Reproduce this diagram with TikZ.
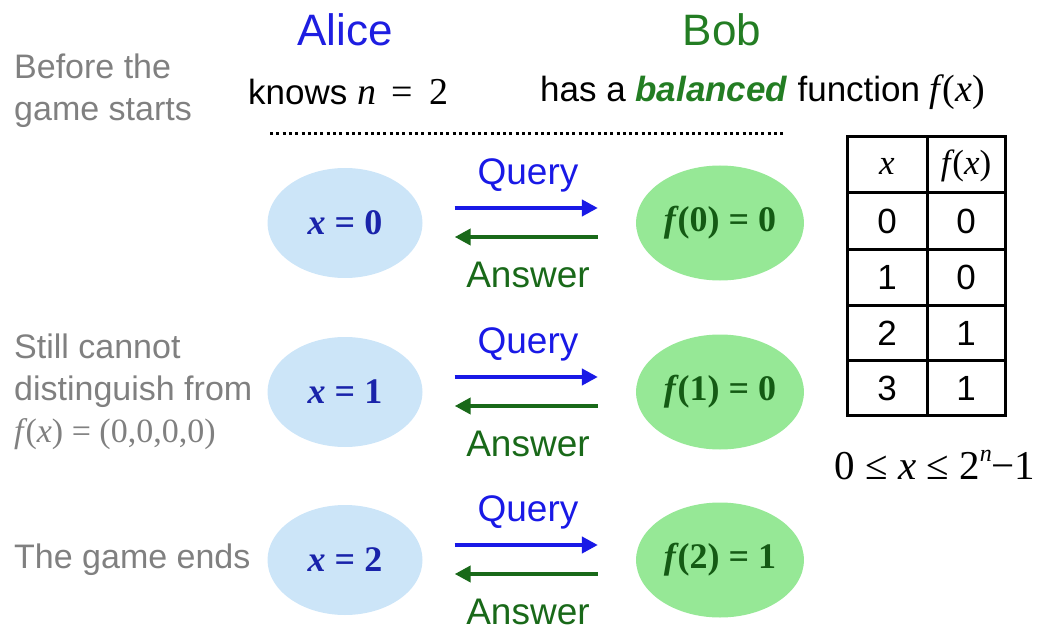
\documentclass[tikz,border=0pt]{standalone}
\usepackage{fontspec}
\setmainfont{Liberation Sans}
\newfontfamily\tms{Liberation Serif}
\usetikzlibrary{shapes.geometric,arrows.meta,calc}
\definecolor{aliceblue}{RGB}{30,30,225}
\definecolor{bobgreen}{RGB}{35,125,35}
\definecolor{afill}{RGB}{204,229,248}
\definecolor{bfill}{RGB}{150,232,150}
\definecolor{atext}{RGB}{25,35,170}
\definecolor{btext}{RGB}{20,90,20}
\definecolor{qblue}{RGB}{25,25,230}
\definecolor{agreen}{RGB}{25,105,25}
\definecolor{note}{RGB}{128,128,128}
\newcommand{\fx}{\textit{f}\kern-0.06em(\textit{x})}
\tikzset{
  title/.style={font=\fontsize{44}{50}\selectfont},
  body/.style={font=\fontsize{35}{42}\selectfont},
  side/.style={font=\fontsize{34}{42}\selectfont, text=note, anchor=west, align=left, inner sep=0pt},
  aell/.style={ellipse, fill=afill, minimum width=155pt, minimum height=110pt, text=atext, font=\tms\bfseries\fontsize{36}{40}\selectfont},
  bell/.style={ellipse, fill=bfill, minimum width=160pt, minimum height=115pt, text=btext, font=\tms\bfseries\fontsize{36}{40}\selectfont},
  qarrow/.style={draw=qblue, line width=4pt, -{Triangle[length=16pt,width=16pt]}},
  aarrow/.style={draw=agreen, line width=4pt, -{Triangle[length=16pt,width=16pt]}},
  qlabel/.style={text=qblue, inner sep=1pt, font=\fontsize{37}{40}\selectfont},
  alabel/.style={text=agreen, inner sep=1pt, font=\fontsize{37}{40}\selectfont},
  cell/.style={font=\fontsize{35}{40}\selectfont},
  tline/.style={line width=3pt},
}
\begin{document}
\begin{tikzpicture}[x=1pt,y=-1pt]
\useasboundingbox (0,0) rectangle (1044,631);
% titles
\node[title, text=aliceblue] (alice) at (345,30) {Alice};
\node[title, text=bobgreen] (bob) at (722,30) {Bob};
\node[side] (before) at (14,91) {Before the\\game starts};
\node[body, anchor=west, inner sep=0pt] (knows) at (248,92) {knows {\tms\fontsize{38}{42}\selectfont\textit{n}\ \,=\ \,2}};
\node[body, anchor=west, inner sep=0pt] (has) at (540,92) {has a \textcolor{bobgreen}{\textbf{\textit{balanced}}} function {\tms\fontsize{38}{42}\selectfont\fx}};
\coordinate (d1) at (270,134);
\coordinate (d2) at (783,134);
\draw[line width=3pt, dash pattern=on 3pt off 3.3pt] (d1) -- (d2);
% rows
\foreach \i/\yy/\xv/\fv in {1/223/0/0, 2/392/1/0, 3/560/2/1}{
  \node[aell] (a\i) at (345,\yy) {\textit{x} = \xv};
  \node[bell] (b\i) at (720,\yy) {\textit{f}\kern-0.04em(\xv) = \fv};
  \coordinate (qs\i) at ($(a\i.east)+(32,-15)$);
  \coordinate (qe\i) at ($(b\i.west)+(-38,-15)$);
  \coordinate (as\i) at ($(b\i.west)+(-38,14)$);
  \coordinate (ae\i) at ($(a\i.east)+(32,14)$);
  \draw[qarrow] (qs\i) -- (qe\i);
  \draw[aarrow] (as\i) -- (ae\i);
  \node[qlabel] (ql\i) at (528,\yy-48) {Query};
  \node[alabel] (al\i) at (528,\yy+52) {Answer};
}
\node[side] (still) at (14,392) {Still cannot\\distinguish from\\{\tms\fx\ = (0,0,0,0)}};
\node[side] (ends) at (14,560) {The game ends};
% table
\draw[tline] (847,137) rectangle (1005,415);
\draw[tline] (927,137) -- (927,415);
\foreach \yy in {193,249,305,360}{ \draw[tline] (847,\yy) -- (1005,\yy); }
\node[cell] (h1) at (887,166) {\tms\textit{x}};
\node[cell] (h2) at (966,166) {\tms\fx};
\foreach \r/\yy/\fv in {0/221/0, 1/277/0, 2/333/1, 3/388/1}{
  \node[cell] (c\r a) at (887,\yy) {\r};
  \node[cell] (c\r b) at (966,\yy) {\fv};
}
\node[font=\tms\fontsize{41}{44}\selectfont] (range) at (935,465) {0 ≤ \textit{x} ≤ 2\raisebox{0.45em}{\fontsize{24}{26}\selectfont\textit{n}}−1};
\end{tikzpicture}
\end{document}
